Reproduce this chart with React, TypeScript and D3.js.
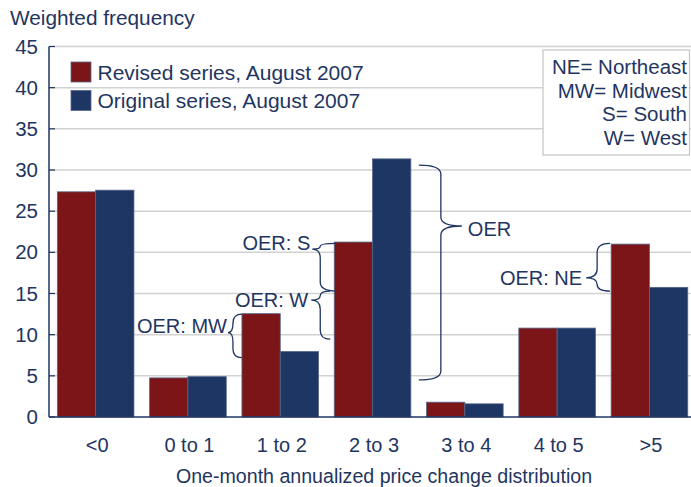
import React from "react";
import * as d3 from "d3";

const categories = ["<0", "0 to 1", "1 to 2", "2 to 3", "3 to 4", "4 to 5", ">5"];
const revisedValues = [27.35, 4.75, 12.55, 21.25, 1.8, 10.8, 21.0];
const originalValues = [27.55, 4.9, 7.95, 31.35, 1.6, 10.8, 15.75];
const seriesNames = ["Revised series, August 2007", "Original series, August 2007"];
const seriesColors = ["#7b1518", "#1d3664"];
const yTicks = [0, 5, 10, 15, 20, 25, 30, 35, 40, 45];
const regionLines = ["NE= Northeast", "MW= Midwest", "S= South", "W= West"];
const yTitle = "Weighted frequency";
const xTitle = "One-month annualized price change distribution";

// braces: anchored to a category band edge, vertical extents in data units
// dir -1 = tip to the left "{", +1 = tip to the right "}"
const braces = [
  { label: "OER: MW", cat: "1 to 2", edge: "start", top: 12.5, tip: 10.25, bottom: 7.2, dir: -1, endDx: 0, spineDx: -9, tipDx: -14, labelDx: -15, labelDy: 0 },
  { label: "OER: S", cat: "2 to 3", edge: "start", top: 21.1, tip: 20.4, bottom: 15.3, dir: -1, endDx: 2, spineDx: -14, tipDx: -22, labelDx: -24, labelDy: 1 },
  { label: "OER: W", cat: "2 to 3", edge: "start", top: 15.3, tip: 14.2, bottom: 9.45, dir: -1, endDx: -4, spineDx: -14, tipDx: -23, labelDx: -26, labelDy: 7 },
  { label: "OER", cat: "2 to 3", edge: "end", top: 30.6, tip: 23.2, bottom: 4.5, dir: 1, endDx: 8, spineDx: 30, tipDx: 51, labelDx: 57, labelDy: 10 },
  { label: "OER: NE", cat: ">5", edge: "start", top: 21.1, tip: 16.9, bottom: 15.3, dir: -1, endDx: -1, spineDx: -14, tipDx: -25, labelDx: -29, labelDy: 7 },
];

const W = 691;
const H = 487;
const textColor = "#1f3561";
const font = "'Liberation Sans', Arial, sans-serif";

export default function App() {
  const x0 = d3.scaleBand<string>().domain(categories).range([49.5, 695.6]).paddingInner(0.17).paddingOuter(0.085);
  const x1 = d3.scaleBand<number>().domain([0, 1]).range([0, x0.bandwidth()]).padding(0);
  const y = d3.scaleLinear().domain([0, 45]).range([417, 46.5]);
  const axisX = 49;
  const series = [revisedValues, originalValues];

  const bracePath = (b: any) => {
    const base = (x0(b.cat) as number) + (b.edge === "end" ? x0.bandwidth() : 0);
    const xe = base + b.endDx;
    const xs = base + b.spineDx;
    const xt = base + b.tipDx;
    const y0 = y(b.top);
    const yt = y(b.tip);
    const y1 = y(b.bottom);
    const r1 = Math.min(9, (yt - y0) / 2);
    const r2 = Math.min(9, (y1 - yt) / 2);
    const p = d3.path();
    p.moveTo(xe, y0);
    p.quadraticCurveTo(xs, y0, xs, y0 + r1);
    p.lineTo(xs, yt - r1);
    p.quadraticCurveTo(xs, yt, xt, yt);
    p.quadraticCurveTo(xs, yt, xs, yt + r2);
    p.lineTo(xs, y1 - r2);
    p.quadraticCurveTo(xs, y1, xe, y1);
    return { d: p.toString(), lx: base + b.labelDx, ly: yt + b.labelDy };
  };

  return (
    <svg width={W} height={H} style={{ position: "absolute", left: 0, top: 0, background: "#fff" }} fontFamily={font}>
      <rect x={0} y={0} width={W} height={H} fill="#fff" />
      {/* gridlines */}
      {yTicks.filter((t) => t > 0).map((t) => (
        <line key={"g" + t} x1={axisX} x2={W} y1={y(t)} y2={y(t)} stroke="#d2d2d2" strokeWidth={1.5} />
      ))}
      {/* tick marks */}
      {yTicks.map((t) => (
        <line key={"tk" + t} x1={axisX} x2={axisX + 6} y1={y(t)} y2={y(t)} stroke={textColor} strokeWidth={1.2} />
      ))}
      {/* y tick labels */}
      {yTicks.map((t) => (
        <text key={"yl" + t} x={38} y={y(t) + 7} textAnchor="end" fontSize={20.5} fill={textColor}>
          {t}
        </text>
      ))}
      {/* bars */}
      {categories.map((c, i) => (
        <g key={c} transform={`translate(${x0(c)},0)`}>
          {series.map((s, k) => (
            <rect
              key={k}
              x={x1(k)}
              y={y(s[i])}
              width={x1.bandwidth()}
              height={y(0) - y(s[i])}
              fill={seriesColors[k]}
              stroke="#56668a"
              strokeWidth={0.8}
            />
          ))}
        </g>
      ))}
      {/* axes */}
      <line x1={axisX} x2={axisX} y1={y(45)} y2={y(0)} stroke={textColor} strokeWidth={1.5} />
      <line x1={axisX} x2={W} y1={y(0)} y2={y(0)} stroke={textColor} strokeWidth={1.5} />
      {/* x labels */}
      {categories.map((c) => (
        <text key={"xl" + c} x={(x0(c) as number) + x0.bandwidth() / 2 + 1.5} y={452} textAnchor="middle" fontSize={20} fill={textColor}>
          {c}
        </text>
      ))}
      <text x={384} y={483} textAnchor="middle" fontSize={19.6} fill={textColor}>
        {xTitle}
      </text>
      <text x={10} y={25} fontSize={20.8} fill={textColor}>
        {yTitle}
      </text>
      {/* legend */}
      {seriesNames.map((n, k) => (
        <g key={n}>
          <rect x={71} y={62 + k * 28.5} width={20} height={20} fill={seriesColors[k]} stroke="#56668a" strokeWidth={0.8} />
          <text x={97.5} y={79.5 + k * 28.5} fontSize={21} fill={textColor}>
            {n}
          </text>
        </g>
      ))}
      {/* region box */}
      <rect x={543} y={50} width={146.5} height={105} fill="#fff" stroke="#c4c4c4" strokeWidth={1.2} />
      {regionLines.map((l, k) => (
        <text key={l} x={687} y={74 + k * 23.7} textAnchor="end" fontSize={20.5} fill={textColor}>
          {l}
        </text>
      ))}
      {/* braces */}
      {braces.map((b) => {
        const bp = bracePath(b);
        return (
          <g key={b.label}>
            <path d={bp.d} fill="none" stroke={textColor} strokeWidth={1.3} />
            <text x={bp.lx} y={bp.ly} textAnchor={b.dir < 0 ? "end" : "start"} fontSize={20} fill={textColor}>
              {b.label}
            </text>
          </g>
        );
      })}
    </svg>
  );
}
